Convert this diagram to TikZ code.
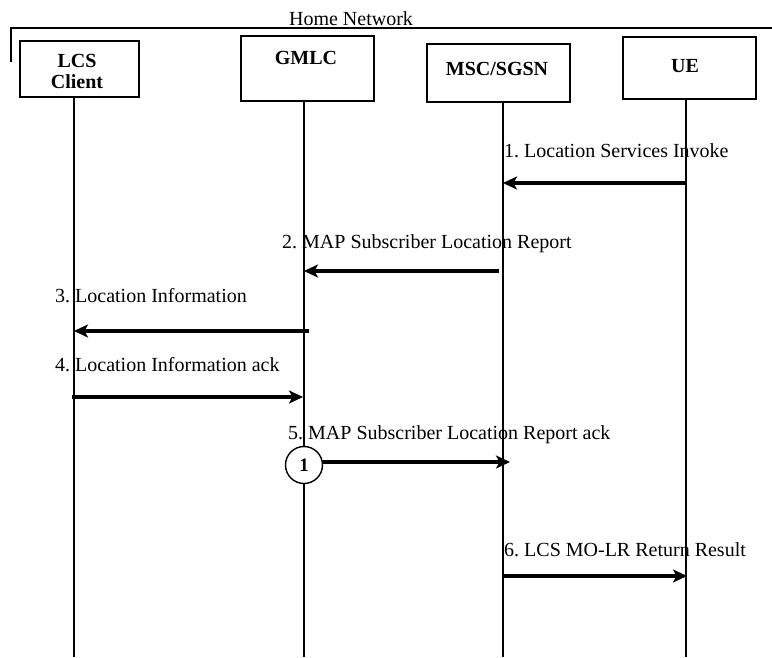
\documentclass[tikz,border=0pt]{standalone}
\usepackage{fontspec}
\setmainfont{Liberation Serif}
\usetikzlibrary{arrows.meta}
\frenchspacing
\begin{document}
\begin{tikzpicture}[x=1pt,y=-1pt,
  box/.style={draw,line width=1.8pt,inner sep=0pt,fill=white},
  lbl/.style={font=\fontsize{20}{21}\selectfont\bfseries,inner sep=0pt,anchor=base},
  life/.style={line width=1.4pt},
  msg/.style={line width=3.2pt,-{Stealth[length=14pt,width=13pt,inset=3.5pt]}},
  txt/.style={font=\fontsize{20}{21}\selectfont,inner sep=0pt,anchor=base west},
  circ/.style={draw,circle,line width=1.4pt,minimum size=37pt,inner sep=0pt,fill=white,font=\fontsize{19}{19}\selectfont\bfseries}
]
\useasboundingbox (0,0) rectangle (772,657);
% frame
\coordinate (fa) at (11,62);
\coordinate (fb) at (11,28);
\coordinate (fc) at (772,28);
\draw[line width=1.4pt] (fa) -- (fb) -- (fc);
\node[font=\fontsize{20}{21}\selectfont,inner sep=0pt,anchor=base] (hn) at (351,25) {Home Network};
% lifeline coordinates
\coordinate (lcsT) at (74,97);   \coordinate (lcsB) at (74,657);
\coordinate (gmlcT) at (304,101); \coordinate (gmlcB) at (304,657);
\coordinate (mscT) at (503,102);  \coordinate (mscB) at (503,657);
\coordinate (ueT) at (686,99);   \coordinate (ueB) at (686,657);
\draw[life] (lcsT) -- (lcsB);
\draw[life] (gmlcT) -- (gmlcB);
\draw[life] (mscT) -- (mscB);
\draw[life] (ueT) -- (ueB);
% boxes
\node[box,minimum width=119pt,minimum height=56pt] (lcs) at (79.5,69) {};
\node[box,minimum width=133pt,minimum height=65pt] (gmlc) at (307.5,68.5) {};
\node[box,minimum width=143pt,minimum height=58pt] (msc) at (498.5,73) {};
\node[box,minimum width=133pt,minimum height=62pt] (ue) at (689.5,68) {};
\node[lbl] (lcsl1) at (77,67) {LCS};
\node[lbl] (lcsl2) at (77,88) {Client};
\node[lbl] (gmlcl) at (306,64) {GMLC};
\node[lbl] (mscl) at (497,75) {MSC/SGSN};
\node[lbl] (uel) at (685,72) {UE};
% message 1
\coordinate (m1a) at (686,183); \coordinate (m1b) at (503,183);
\draw[msg] (m1a) -- (m1b);
\node[txt] (t1) at (504,157) {1. Location Services Invoke};
% message 2
\coordinate (m2a) at (499,271); \coordinate (m2b) at (304,271);
\draw[msg] (m2a) -- (m2b);
\node[txt] (t2) at (282,248) {2. MAP Subscriber Location Report};
% message 3
\coordinate (m3a) at (309,331); \coordinate (m3b) at (74,331);
\draw[msg] (m3a) -- (m3b);
\node[txt] (t3) at (55,302) {3. Location Information};
% message 4
\coordinate (m4a) at (72,397); \coordinate (m4b) at (303,397);
\draw[msg] (m4a) -- (m4b);
\node[txt] (t4) at (55,371) {4. Location Information ack};
% message 5
\node[circ] (c1) at (304,465) {1};
\coordinate (m5b) at (510,462);
\draw[msg] (c1.east |- m5b) -- (m5b);
\node[txt] (t5) at (288,439) {5. MAP Subscriber Location Report ack};
% message 6
\coordinate (m6a) at (503,576); \coordinate (m6b) at (687,576);
\draw[msg] (m6a) -- (m6b);
\node[txt] (t6) at (504,556) {6. LCS MO-LR Return Result};
\end{tikzpicture}
\end{document}
